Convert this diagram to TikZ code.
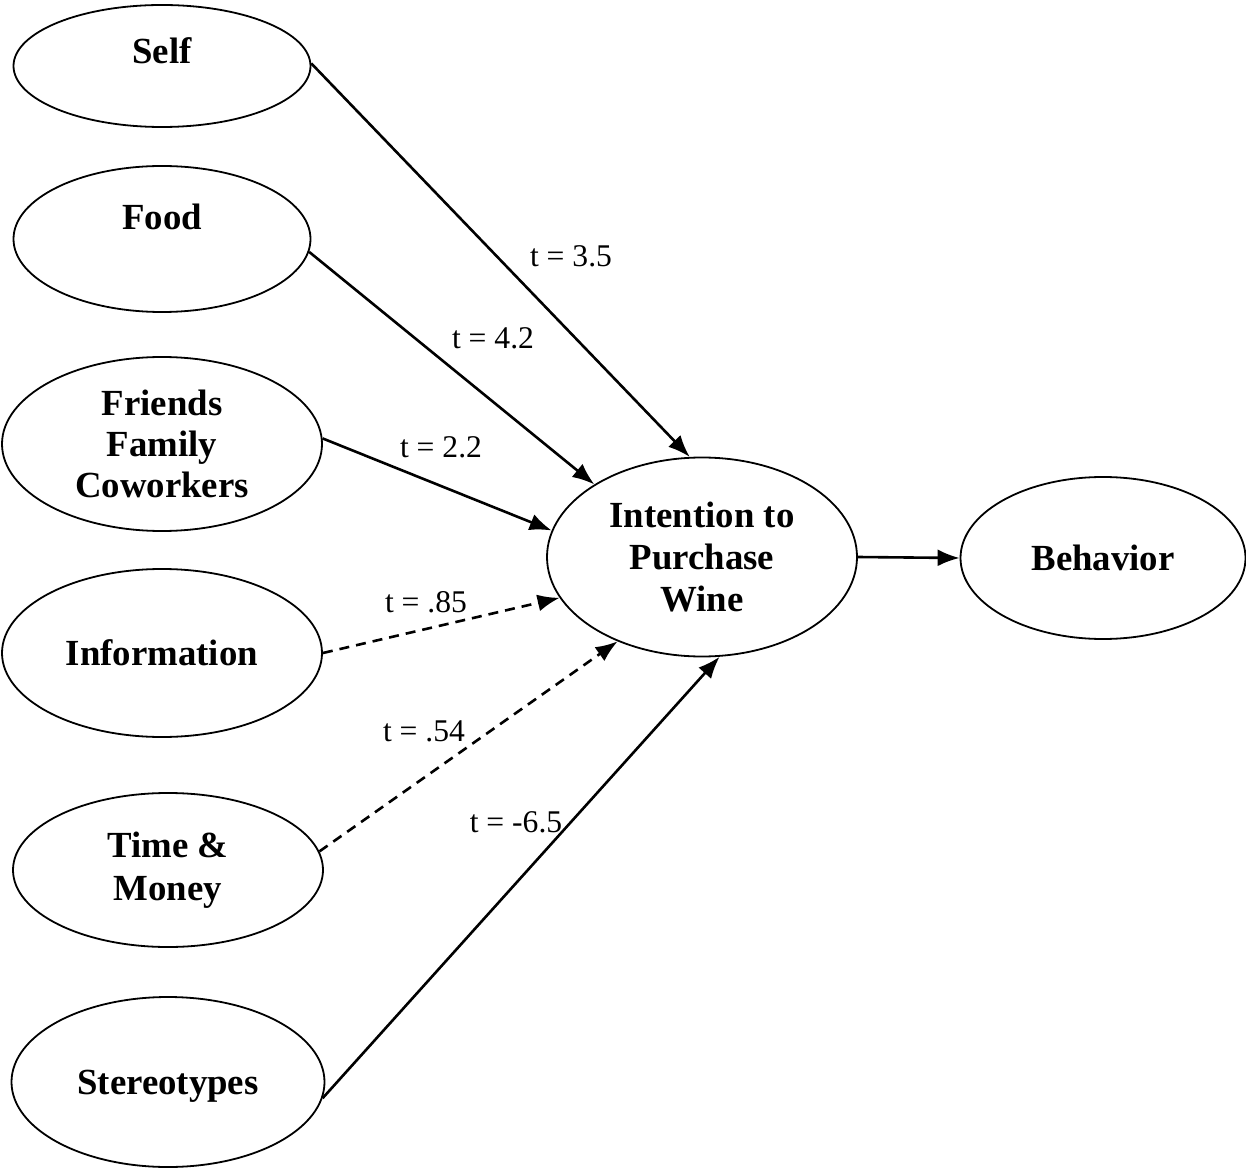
\documentclass[tikz,border=0pt]{standalone}
\usepackage{fontspec}
\setmainfont{Liberation Serif}
\usetikzlibrary{shapes.geometric,arrows.meta}
\begin{document}
\begin{tikzpicture}[x=0.5pt,y=-0.5pt,
  latent/.style={draw,ellipse,line width=0.9pt,inner sep=0pt,align=center,
    font=\fontsize{18.4}{20.5}\selectfont\bfseries},
  path/.style={-{Latex[length=11pt,width=8.5pt]},line width=1.3pt},
  tval/.style={font=\fontsize{15.8}{18}\selectfont}]
\useasboundingbox (0,0) rectangle (1246,1170);
% constructs
\node[latent,minimum width=148.5pt,minimum height=61pt,text height=12pt,text depth=14pt] (self) at (162,66) {Self};
\node[latent,minimum width=148.5pt,minimum height=73pt,text height=12pt,text depth=21pt] (food) at (162,239) {Food};
\node[latent,minimum width=160pt,minimum height=87pt] (ffc) at (162,444) {Friends\\Family\\Coworkers};
\node[latent,minimum width=160pt,minimum height=84pt,text height=12pt,text depth=0pt] (info) at (162,653) {Information};
\node[latent,minimum width=155pt,minimum height=77pt,font=\fontsize{18.4}{21.5}\selectfont\bfseries] (tm) at (168,870) {Time \&\\Money};
\node[latent,minimum width=156.5pt,minimum height=85pt,text height=12pt,text depth=0pt] (stereo) at (168,1082) {Stereotypes};
\node[latent,minimum width=155pt,minimum height=99.5pt,font=\fontsize{18.4}{21}\selectfont\bfseries] (intent) at (702,557) {Intention to\\Purchase\\Wine};
\node[latent,minimum width=142.5pt,minimum height=81pt] (behav) at (1103,558) {Behavior};
% paths
\draw[path] (self.1) -- (intent.97);
\draw[path] (food.-5) -- (intent.146);
\draw[path] (ffc.2) -- (intent.170);
\draw[path,dashed,dash pattern=on 5pt off 3.5pt] (info.0) -- (intent.196);
\draw[path,dashed,dash pattern=on 5pt off 3.5pt] (tm.7) -- (intent.225);
\draw[path] (stereo.-6) -- (intent.280);
\draw[path] (intent.east) -- (behav.west);
% t values
\node[tval] (t1) at (571,256) {t = 3.5};
\node[tval] (t2) at (493,338) {t = 4.2};
\node[tval] (t3) at (441,447) {t = 2.2};
\node[tval] (t4) at (426,602) {t = .85};
\node[tval] (t5) at (424,731) {t = .54};
\node[tval] (t6) at (516,822) {t = -6.5};
\end{tikzpicture}
\end{document}
